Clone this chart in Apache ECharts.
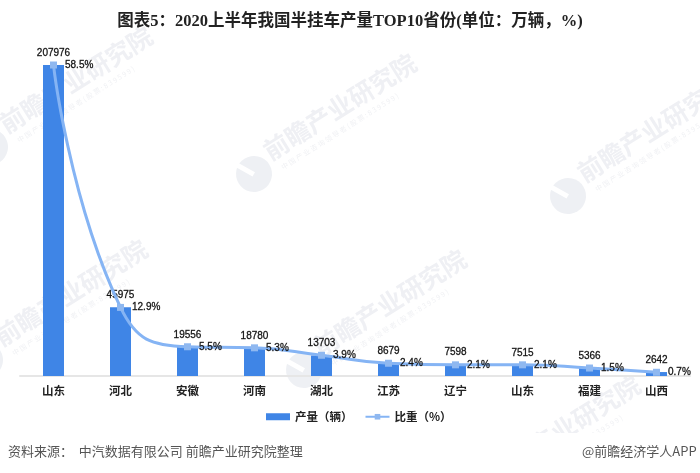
<!DOCTYPE html>
<html><head><meta charset="utf-8">
<style>html,body{margin:0;padding:0;background:#fff}#c{width:700px;height:473px}</style>
<script src="https://cdn.jsdelivr.net/npm/echarts@6/dist/echarts.min.js"></script></head>
<body><div id="c"></div>
<script>
var categories=['山东','河北','安徽','河南','湖北','江苏','辽宁','山东','福建','山西'];
var output=[207976,45975,19556,18780,13703,8679,7598,7515,5366,2642];
var share=[58.5,12.9,5.5,5.3,3.9,2.4,2.1,2.1,1.5,0.7];
var cjk='"Noto Sans CJK SC","Noto Sans",sans-serif';
var markAnchors=[[-10,147],[254,174],[568,196],[-15,360],[304,370],[478,496]];
var wmColor='#eff0f4';
var wm=markAnchors.map(function(a){
 return {type:'group',x:a[0],y:a[1],rotation:0.56,silent:true,children:[
  {type:'circle',z:-2,shape:{cx:0,cy:0,r:18},style:{fill:'#eef0f4'}},
  {type:'rect',z:-2,shape:{x:-3,y:-20,width:5,height:20},rotation:0.5,style:{fill:'#fff'}},
  {type:'text',z:-2,x:21,y:-24,style:{text:'前瞻产业研究院',fill:wmColor,font:'bold 25px '+cjk}},
  {type:'text',z:-2,x:27,y:6,style:{text:'中 国 产 业 咨 询 领 导 者 ( 股 票 : 8 3 9 5 9 9 )',fill:'#f0f1f4',font:'7px '+cjk}}
 ]};
});
var labelFx={fontFamily:'"Liberation Sans",sans-serif',fontSize:10,color:'#111',textBorderColor:'#333',textBorderWidth:0.3};
var chart=echarts.init(document.getElementById('c'));
chart.setOption({
 animation:false,backgroundColor:'#fff',
 title:[{text:'图表5：2020上半年我国半挂车产量TOP10省份(单位：万辆，%)',left:'center',top:8,textStyle:{fontFamily:'"Liberation Serif","Noto Sans CJK SC",serif',fontWeight:'bold',fontSize:16.5,color:'#222'}}],
 legend:{top:406,left:261,itemGap:12,itemWidth:24,itemHeight:7,textStyle:{fontFamily:cjk,fontWeight:'bold',fontSize:11.5,color:'#222'},
   data:[{name:'产量（辆）',icon:'rect'},{name:'比重（%）'}]},
 grid:{left:20,right:10,top:65,bottom:97},
 xAxis:{type:'category',data:categories,axisTick:{show:false},axisLine:{lineStyle:{color:'#e6e6e6',width:2}},
   axisLabel:{margin:9,fontFamily:cjk,fontWeight:'bold',fontSize:11.5,color:'#222'}},
 yAxis:[{type:'value',min:0,max:207976,show:false,splitLine:{show:false}},
        {type:'value',min:0,max:58.5,show:false,splitLine:{show:false}}],
 series:[
  {name:'产量（辆）',type:'bar',data:output,barWidth:21,itemStyle:{color:'#3f85e6'},
   label:Object.assign({show:true,position:'top',distance:7},labelFx)},
  {name:'比重（%）',type:'line',yAxisIndex:1,data:share,smooth:0.5,symbol:'rect',symbolSize:7,
   lineStyle:{color:'#85b4f4',width:3},itemStyle:{color:'#8fb8f0'},
   label:Object.assign({show:true,position:'right',distance:8,formatter:function(p){return p.value.toFixed(1)+'%';}},labelFx)}
 ],
 graphic:wm.concat([
  {type:'rect',z:-1,silent:true,shape:{x:0,y:433,width:700,height:40},style:{fill:'#fff'}},
  {type:'text',x:8,y:445,silent:true,style:{text:'资料来源：  中汽数据有限公司 前瞻产业研究院整理',fill:'#555',font:'13px '+cjk}},
  {type:'text',x:582,y:445,silent:true,style:{text:'@前瞻经济学人APP',fill:'#555',font:'13px '+cjk}}
 ])
});
</script></body></html>
